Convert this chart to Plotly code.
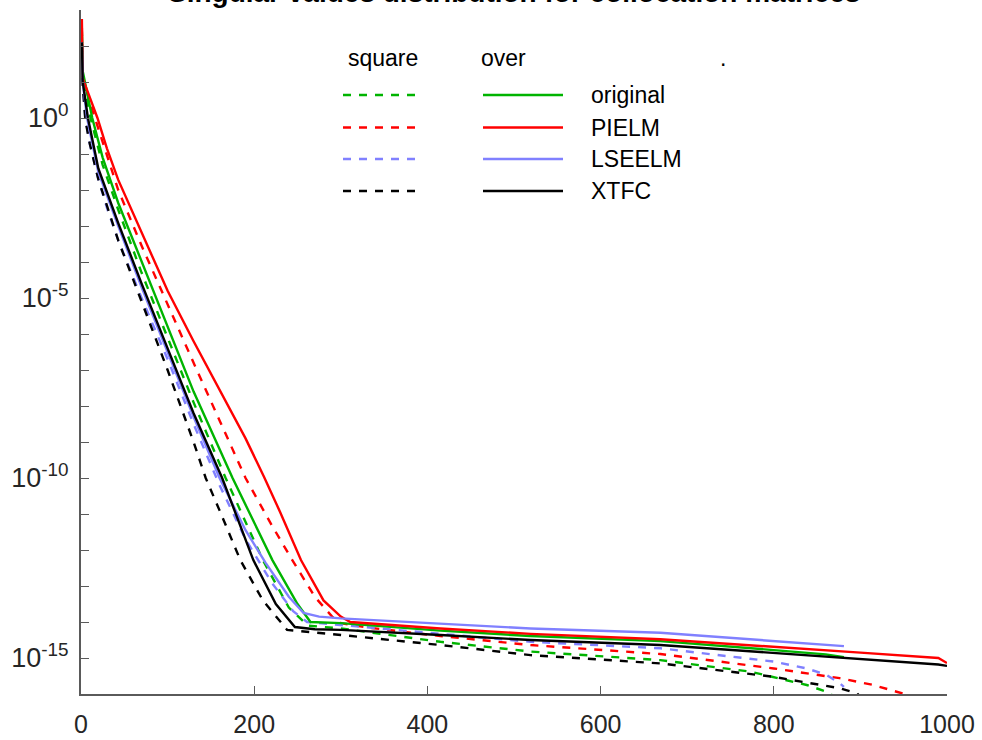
import plotly.graph_objects as go

# ---- data: index of singular value and log10(value) ----
orig_sq_x = [1, 2, 11, 25, 43, 70, 100, 130, 167, 210, 240, 262, 300, 415, 519, 669, 773, 838, 865, 872]
orig_sq_y = [2.3, 1.2, 0.0, -1.3, -2.55, -4.3, -6.1, -7.9, -10.0, -12.28, -13.6, -14.1, -14.18, -14.55, -14.82, -15.06, -15.38, -15.75, -15.97, -16.2]

pielm_sq_x = [1, 2, 16, 43, 70, 100, 130, 160, 190, 220, 244, 270, 290, 300, 330, 415, 519, 669, 800, 876, 915, 955, 962]
pielm_sq_y = [2.5, 1.1, 0.0, -2.0, -3.55, -5.2, -6.8, -8.4, -10.0, -11.3, -12.28, -13.3, -13.85, -14.03, -14.15, -14.39, -14.64, -14.89, -15.29, -15.56, -15.75, -16.03, -16.2]

lseelm_sq_x = [1, 2, 5, 10, 20, 30, 43, 70, 100, 130, 160, 190, 220, 245, 261, 300, 415, 519, 669, 800, 838, 861, 876, 881]
lseelm_sq_y = [2.0, 1.0, 0.0, -0.7, -1.7, -2.5, -3.4, -5.0, -6.7, -8.5, -10.2, -11.7, -12.9, -13.7, -14.0, -14.08, -14.33, -14.55, -14.73, -15.1, -15.29, -15.47, -15.7, -15.8]

xtfc_sq_x = [1, 2, 5, 10, 20, 43, 70, 100, 130, 144, 160, 184, 210, 230, 238, 300, 415, 519, 669, 799, 876, 896, 905]
xtfc_sq_y = [2.0, 0.9, -0.05, -0.7, -1.7, -3.4, -5.1, -7.0, -9.0, -10.0, -10.9, -12.28, -13.4, -14.0, -14.22, -14.36, -14.64, -14.92, -15.15, -15.52, -15.84, -15.98, -16.2]

orig_ov_x = [1, 2, 13, 25, 43, 70, 100, 130, 175, 221, 250, 265, 300, 415, 519, 669, 800, 860, 881]
orig_ov_y = [2.4, 1.3, 0.0, -1.1, -2.36, -4.0, -5.8, -7.6, -10.0, -12.28, -13.5, -14.0, -14.03, -14.24, -14.39, -14.53, -14.78, -14.9, -14.98]

pielm_ov_x = [1, 2, 19, 30, 43, 70, 100, 130, 160, 190, 211, 230, 254, 280, 300, 311, 415, 519, 669, 800, 900, 990, 1000]
pielm_ov_y = [2.75, 1.1, 0.0, -0.85, -1.72, -3.2, -4.8, -6.2, -7.55, -8.9, -9.95, -10.95, -12.28, -13.4, -13.85, -14.0, -14.18, -14.33, -14.48, -14.68, -14.85, -15.0, -15.14]

lseelm_ov_x = [1, 2, 7, 20, 43, 70, 100, 130, 160, 190, 213, 240, 257, 275, 300, 415, 519, 669, 800, 860, 881]
lseelm_ov_y = [2.1, 1.0, 0.0, -1.5, -3.0, -4.7, -6.5, -8.3, -10.0, -11.45, -12.35, -13.3, -13.75, -13.85, -13.9, -14.04, -14.18, -14.30, -14.53, -14.62, -14.67]

xtfc_ov_x = [1, 2, 8, 20, 43, 70, 100, 130, 163, 199, 225, 247, 270, 300, 415, 519, 669, 800, 946, 990, 1000]
xtfc_ov_y = [2.1, 1.0, 0.0, -1.4, -2.92, -4.6, -6.4, -8.2, -10.0, -12.28, -13.5, -14.14, -14.2, -14.22, -14.36, -14.5, -14.64, -14.86, -15.1, -15.18, -15.22]

method_names = ["original", "PIELM", "LSEELM", "XTFC"]
method_colors = ["#00b400", "#ff0000", "#8080ff", "#000000"]
column_names = ["square", "over", "."]
x_tick_vals = [0, 200, 400, 600, 800, 1000]
y_label_exps = [0, -5, -10, -15]
title_text = "Singular values distribution for collocation matrices"

square_series = [(orig_sq_x, orig_sq_y), (pielm_sq_x, pielm_sq_y), (lseelm_sq_x, lseelm_sq_y), (xtfc_sq_x, xtfc_sq_y)]
over_series = [(orig_ov_x, orig_ov_y), (pielm_ov_x, pielm_ov_y), (lseelm_ov_x, lseelm_ov_y), (xtfc_ov_x, xtfc_ov_y)]

DASH = "8px,8px"
LW = 2.4

fig = go.Figure()
for (xs, ys), name, col in zip(square_series, method_names, method_colors):
    fig.add_trace(go.Scatter(x=xs, y=[10 ** v for v in ys], mode="lines", name=name + " square",
                             line=dict(color=col, width=LW, dash=DASH), showlegend=False))
for (xs, ys), name, col in zip(over_series, method_names, method_colors):
    fig.add_trace(go.Scatter(x=xs, y=[10 ** v for v in ys], mode="lines", name=name + " over",
                             line=dict(color=col, width=LW), showlegend=False))

# ---- geometry (pixels) ----
W, H = 982, 740
L, R, T, B = 81, 947, 10, 694


def px(xp):
    return (xp - L) / (R - L)


def py(yp):
    return (B - yp) / (B - T)


font_family = "Liberation Sans, Arial, Helvetica, sans-serif"
axis_col = "#5a5a5a"
text_col = "#262626"

# ---- custom legend ----
shapes = []
annotations = []
header_y = 58
for name, xc in zip(column_names, [383, 503, 723]):
    annotations.append(dict(text=name, x=px(xc), y=py(header_y), xref="paper", yref="paper",
                            xanchor="center", yanchor="middle", showarrow=False,
                            font=dict(size=23, color="#000000", family=font_family)))
row_y = [95, 127.5, 159, 191]
for name, col, ry in zip(method_names, method_colors, row_y):
    shapes.append(dict(type="line", xref="paper", yref="paper", x0=px(343), x1=px(416),
                       y0=py(ry), y1=py(ry), line=dict(color=col, width=LW, dash=DASH)))
    shapes.append(dict(type="line", xref="paper", yref="paper", x0=px(483), x1=px(563),
                       y0=py(ry), y1=py(ry), line=dict(color=col, width=LW)))
    annotations.append(dict(text=name, x=px(589), y=py(ry), xref="paper", yref="paper",
                            xanchor="left", yanchor="middle", showarrow=False,
                            font=dict(size=23, color="#000000", family=font_family)))

# ---- title (mostly above the page, as in the reference) ----
annotations.append(dict(text="<b>" + title_text + "</b>", x=px(514), y=py(10), xref="paper", yref="paper",
                        xanchor="center", yanchor="bottom", showarrow=False,
                        font=dict(size=28, color="#000000", family=font_family)))

major_exps = list(range(3, -17, -1))
y_tick_vals = [10.0 ** k for k in y_label_exps]
y_tick_text = ["10<sup>%d</sup>" % k for k in y_label_exps]
y_minor_vals = [10.0 ** k for k in major_exps if k not in y_label_exps]

fig.update_layout(
    width=W, height=H,
    margin=dict(l=L, r=W - R, t=T, b=H - B, pad=0),
    paper_bgcolor="white", plot_bgcolor="white",
    font=dict(family=font_family, color=text_col),
    shapes=shapes, annotations=annotations,
    xaxis=dict(range=[0, 1000], tickvals=x_tick_vals, ticks="inside", ticklen=8, tickwidth=1,
               tickcolor=axis_col, showline=True, linecolor=axis_col, linewidth=2,
               showgrid=False, zeroline=False, tickfont=dict(size=25, color=text_col),
               ticklabelstandoff=7, automargin=False),
    yaxis=dict(type="log", range=[-16, 3], tickvals=y_tick_vals, ticktext=y_tick_text,
               ticks="inside", ticklen=8, tickwidth=1, tickcolor=axis_col,
               minor=dict(tickvals=y_minor_vals, ticks="inside", ticklen=8, tickwidth=1,
                          tickcolor=axis_col, showgrid=False),
               showline=True, linecolor=axis_col, linewidth=2, showgrid=False, zeroline=False,
               tickfont=dict(size=27, color=text_col), ticklabelstandoff=5, automargin=False),
)

fig.write_html("out.html", config={"displayModeBar": False},
               post_script="document.body.style.margin='0px';")
